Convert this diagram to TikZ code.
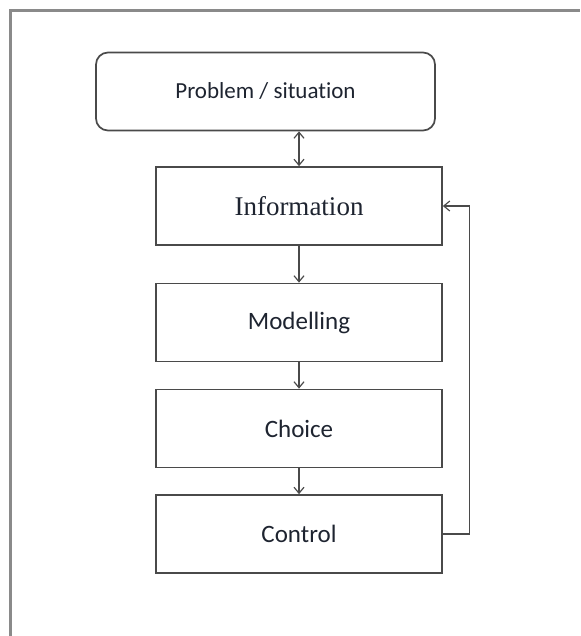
\documentclass[tikz,border=0pt]{standalone}
\usepackage{fontspec}
\setmainfont[Ligatures=NoCommon]{Carlito}
\newfontfamily\serifface{Liberation Serif}
\usetikzlibrary{arrows.meta}
\definecolor{linegray}{HTML}{4A4A4A}
\definecolor{framegray}{HTML}{8A8A8A}
\definecolor{txt}{HTML}{1E2430}
\tikzset{
  box/.style={draw=linegray, line width=1.7pt, minimum width=286pt, minimum height=78pt, inner sep=0pt, text=txt, font=\fontsize{25}{29}\selectfont},
  topbox/.style={box, rounded corners=12pt, minimum width=339pt, font=\fontsize{23}{27}\selectfont},
  conn/.style={draw=linegray, line width=1.2pt, -{Straight Barb[length=6pt,width=10pt]}},
  dconn/.style={draw=linegray, line width=1.2pt, {Straight Barb[length=6pt,width=10pt]}-{Straight Barb[length=6pt,width=10pt]}},
}
\begin{document}
\begin{tikzpicture}[x=1pt,y=-1pt]
\useasboundingbox (0,0) rectangle (580,636);
\coordinate (fb) at (10.5,636);
\coordinate (ft) at (10.5,10.5);
\coordinate (fr) at (580,10.5);
\draw[framegray, line width=2.8pt] (fb) -- (ft) -- (fr);
\node[topbox] (prob) at (265.5,91.5) {Problem / situation};
\node[box, font=\serifface\fontsize{27}{31}\selectfont] (info) at (299,206) {Information};
\node[box] (model) at (299,322.5) {Modelling};
\node[box] (choice) at (299,428.5) {Choice};
\node[box] (ctrl) at (299,534) {Control};
\draw[dconn] (prob.south -| info.north) -- (info.north);
\draw[conn] (info) -- (model);
\draw[conn] (model) -- (choice);
\draw[conn] (choice) -- (ctrl);
\coordinate (fbturn) at ([xshift=27pt]ctrl.east);
\draw[conn] (ctrl.east) -- (fbturn) |- (info.east);
\end{tikzpicture}
\end{document}
